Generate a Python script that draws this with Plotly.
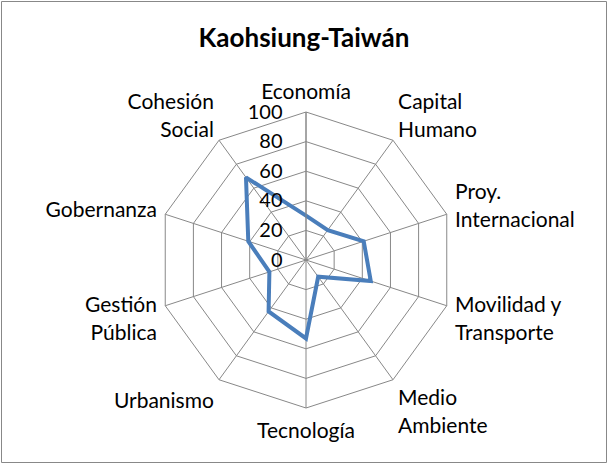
import plotly.graph_objects as go

categories = ["Economía", "Capital<br>Humano", "Proy.<br>Internacional", "Movilidad y<br>Transporte",
              "Medio<br>Ambiente", "Tecnología", "Urbanismo", "Gestión<br>Pública", "Gobernanza",
              "Cohesión<br>Social"]
values = [30, 25, 41, 46, 14, 53, 43, 26, 41, 69]
tick_vals = [0, 20, 40, 60, 80, 100]

W, H = 608, 464
cx, cy, R = 306, 260, 148

fig = go.Figure()
fig.add_trace(go.Scatterpolar(
    r=values + values[:1], theta=categories + categories[:1],
    mode="lines", line=dict(color="#4A7EBB", width=4), showlegend=False, hoverinfo="skip"))

grid = "#888888"
fig.update_layout(
    width=W, height=H, margin=dict(l=0, r=0, t=0, b=0),
    paper_bgcolor="white", plot_bgcolor="white",
    font=dict(family="Lato, 'Open Sans', sans-serif", size=21, color="#000000"),
    title=dict(text="<b>Kaohsiung-Taiwán</b>", x=0.5, xanchor="center", y=1 - 38 / H, yanchor="middle",
               font=dict(size=26, color="#000000")),
    polar=dict(
        domain=dict(x=[(cx - R) / W, (cx + R) / W], y=[(H - cy - R) / H, (H - cy + R) / H]),
        bgcolor="white",
        gridshape="linear",
        angularaxis=dict(rotation=90, direction="clockwise", showline=True, linecolor=grid, linewidth=1,
                         gridcolor=grid, gridwidth=1, ticks="outside", ticklen=4,
                         tickcolor="rgba(0,0,0,0)", tickfont=dict(size=21)),
        radialaxis=dict(range=[0, 100], tickvals=tick_vals, angle=90, side="counterclockwise",
                        showline=True, linecolor=grid, linewidth=1, gridcolor=grid, gridwidth=1,
                        ticks="outside", ticklen=16, tickcolor="rgba(0,0,0,0)",
                        tickfont=dict(size=20), tickangle=90),
    ),
    shapes=[dict(type="rect", xref="paper", yref="paper", x0=1.5 / W, x1=1 - 1.5 / W, y0=1.5 / H, y1=1 - 1.5 / H,
                 line=dict(color="#888888", width=1))],
)
fig.write_html("out.html", config={"displayModeBar": False},
               post_script="document.body.style.margin='0';")
